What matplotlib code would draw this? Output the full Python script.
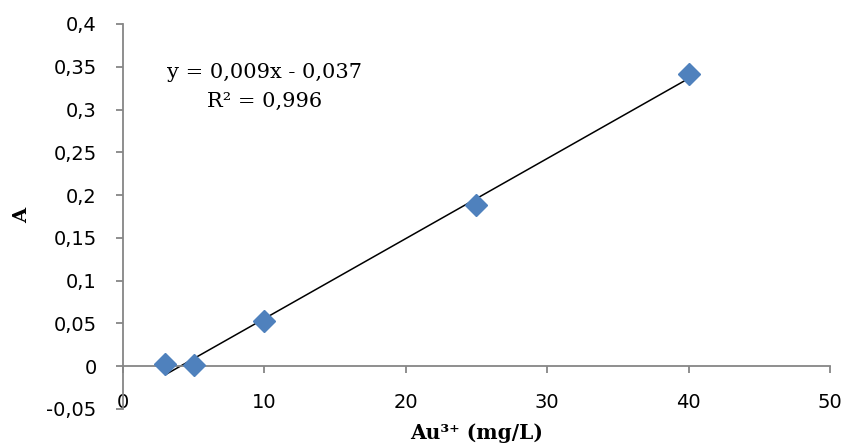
import numpy as np
import matplotlib.pyplot as plt

# calibration data
conc = [3, 5, 10, 25, 40]
absorb = [0.003, 0.001, 0.053, 0.188, 0.342]
x_ticks = [0, 10, 20, 30, 40, 50]
y_ticks = [-0.05, 0, 0.05, 0.1, 0.15, 0.2, 0.25, 0.3, 0.35, 0.4]
eq_text = "y = 0,009x - 0,037"
r2_text = "R² = 0,996"

axis_grey = '#868686'
W, H = 845, 446

fig = plt.figure(figsize=(8.45, 4.46), dpi=100)
ax = fig.add_axes([123 / W, 1 - 409 / H, (830 - 123) / W, (409 - 24) / H])

# linear trendline through the points
k, b = np.polyfit(conc, absorb, 1)
xl = np.array([min(conc), max(conc)])
ax.plot(xl, k * xl + b, color='black', lw=1.1, zorder=2)
ax.plot(conc, absorb, 'D', color='#4F81BD', markersize=11, zorder=3)

ax.set_xlim(0, 50)
ax.set_ylim(-0.05, 0.4)
ax.set_xticks(x_ticks)
ax.set_yticks(y_ticks)
ax.set_xticklabels([str(t) for t in x_ticks])
ax.set_yticklabels([('%g' % t).replace('.', ',') for t in y_ticks])

for s in ['top', 'right']:
    ax.spines[s].set_visible(False)
ax.spines['bottom'].set_position(('data', 0))
ax.spines['left'].set_color(axis_grey)
ax.spines['bottom'].set_color(axis_grey)
ax.spines['left'].set_linewidth(1.3)
ax.spines['bottom'].set_linewidth(1.3)

ax.tick_params(axis='both', direction='out', length=5, width=1.3, color=axis_grey,
               labelsize=14, labelcolor='black')
ax.tick_params(axis='x', pad=14)
ax.tick_params(axis='y', pad=14)

ax.text(265 / W, 1 - 73 / H, eq_text, transform=fig.transFigure, fontsize=15,
        family='DejaVu Serif', ha='center', va='center')
ax.text(265 / W, 1 - 101 / H, r2_text, transform=fig.transFigure, fontsize=15,
        family='DejaVu Serif', ha='center', va='center')

fig.text(22 / W, 1 - 215 / H, 'A', rotation=90, fontsize=14, fontweight='bold',
         family='DejaVu Serif', ha='center', va='center')
fig.text(477 / W, 1 - 433 / H, 'Au³⁺ (mg/L)', fontsize=14.5, fontweight='bold',
         family='DejaVu Serif', ha='center', va='center')

fig.savefig('out.png', dpi=100)
